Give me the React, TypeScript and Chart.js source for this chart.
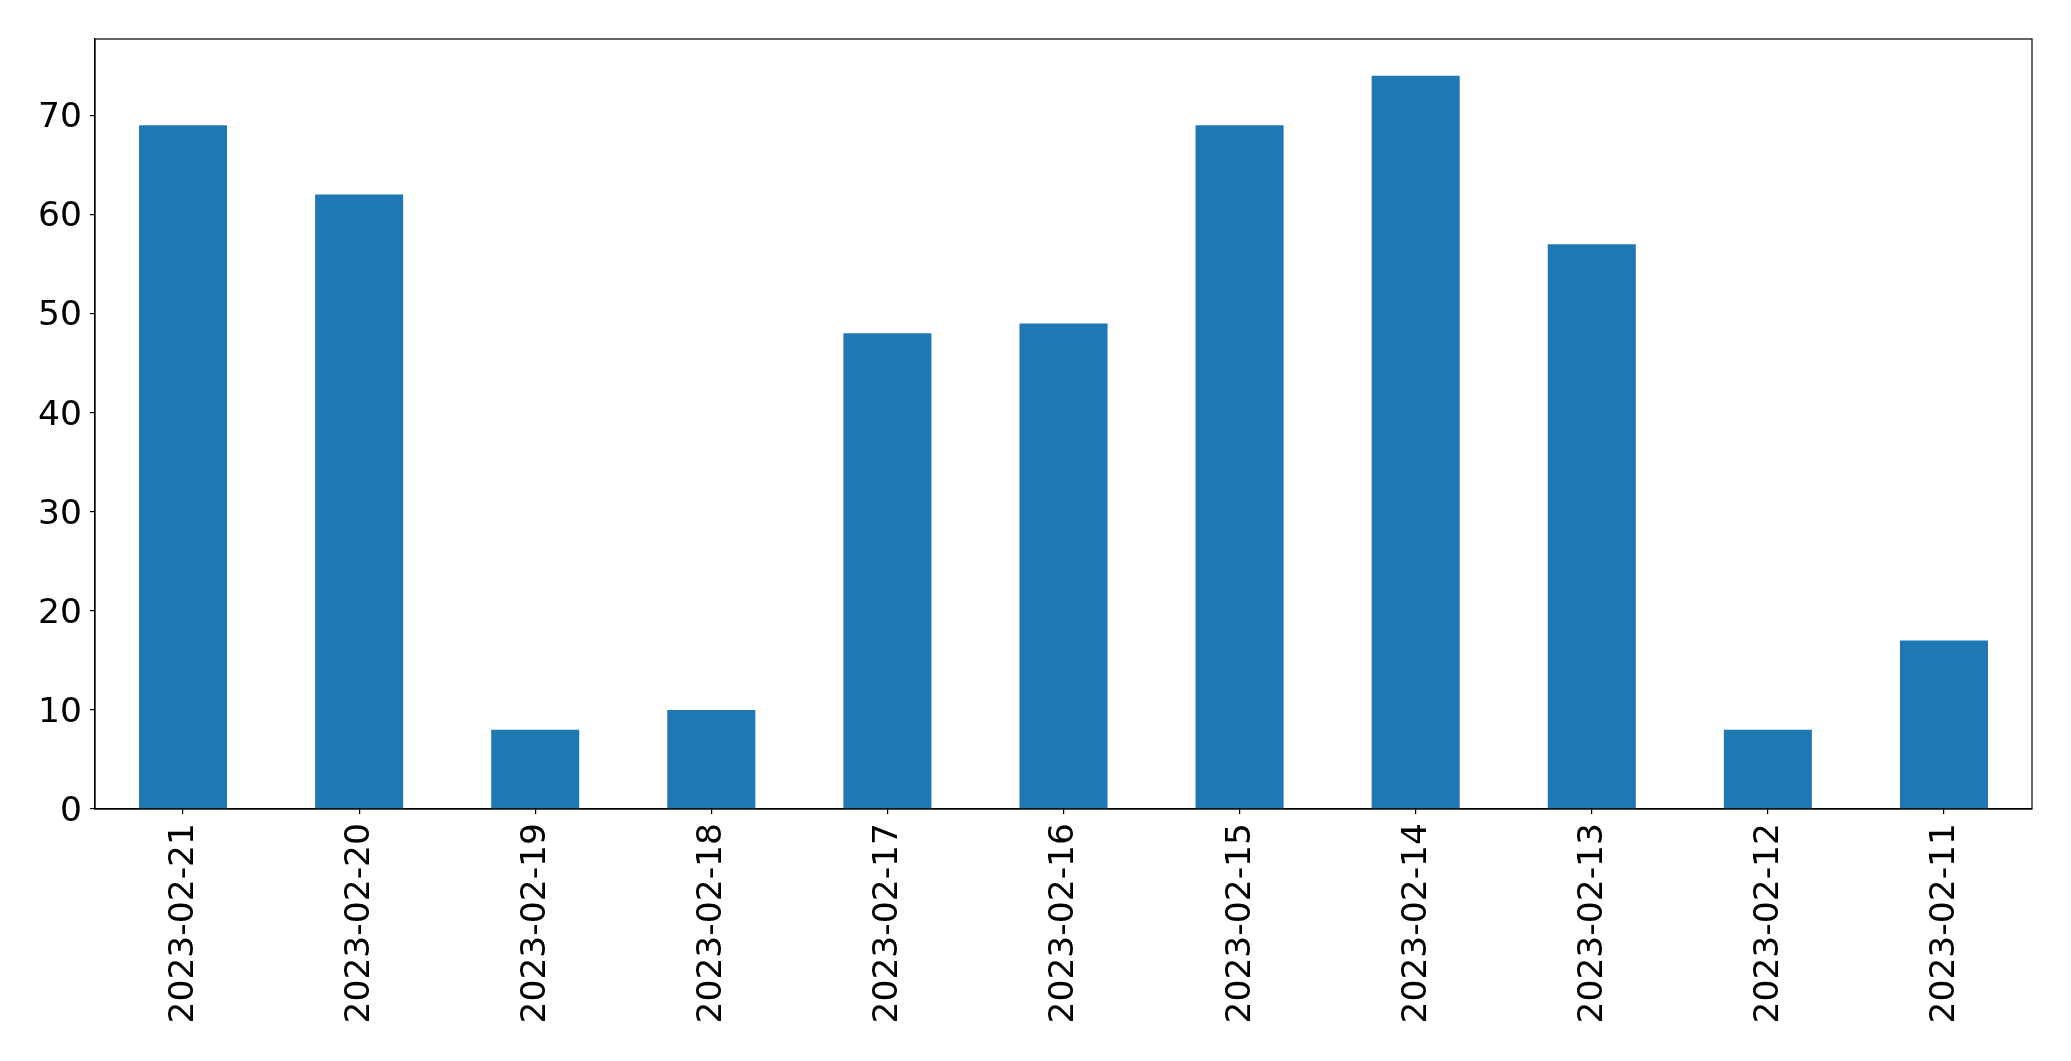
import React, { useEffect, useRef } from "react";
import { Chart, registerables } from "chart.js";

Chart.register(...registerables);

const categories = [
  "2023-02-21", "2023-02-20", "2023-02-19", "2023-02-18", "2023-02-17", "2023-02-16",
  "2023-02-15", "2023-02-14", "2023-02-13", "2023-02-12", "2023-02-11",
];
const counts = [69, 62, 8, 10, 48, 49, 69, 74, 57, 8, 17];
const yTicks = [0, 10, 20, 30, 40, 50, 60, 70];
const yMax = 77.7;

const W = 2071;
const H = 1061;
const FONT = "'DejaVu Sans', sans-serif";
const FS = 34.5;

const framePlugin = {
  id: "frame",
  afterDraw(chart: any) {
    const { ctx, chartArea } = chart;
    ctx.save();
    ctx.strokeStyle = "#000";
    ctx.lineWidth = 1.2;
    ctx.strokeRect(chartArea.left, chartArea.top, chartArea.right - chartArea.left, chartArea.bottom - chartArea.top);
    ctx.restore();
  },
};

export default function App() {
  const ref = useRef<HTMLCanvasElement | null>(null);
  useEffect(() => {
    if (!ref.current) return;
    const chart = new Chart(ref.current, {
      type: "bar",
      data: {
        labels: categories,
        datasets: [
          {
            data: counts,
            backgroundColor: "#1f77b4",
            borderWidth: 0,
            barPercentage: 0.5,
            categoryPercentage: 1,
          },
        ],
      },
      plugins: [framePlugin],
      options: {
        responsive: false,
        animation: false,
        devicePixelRatio: 1,
        layout: { padding: { left: 0, top: 39, right: 39, bottom: 0 } },
        plugins: { legend: { display: false }, tooltip: { enabled: false } },
        scales: {
          x: {
            type: "category",
            offset: true,
            grid: { display: true, offset: false, drawOnChartArea: false, drawTicks: true, tickLength: 5, color: "#000", lineWidth: 1.2 },
            border: { display: true, color: "#000", width: 1.2 },
            ticks: {
              color: "#000",
              font: { family: FONT, size: FS },
              minRotation: 90,
              maxRotation: 90,
              autoSkip: false,
              padding: 9,
              labelOffset: 1,
            },
            afterFit: (scale: any) => {
              scale.height = H - 809;
            },
          },
          y: {
            min: 0,
            max: yMax,
            grid: { display: true, drawOnChartArea: false, drawTicks: true, tickLength: 5, color: "#000", lineWidth: 1.2 },
            border: { display: true, color: "#000", width: 1.2 },
            ticks: {
              color: "#000",
              font: { family: FONT, size: FS },
              stepSize: 10,
              includeBounds: false,
              padding: 8,
              labelOffset: 3,
            },
            afterBuildTicks: (scale: any) => {
              scale.ticks = yTicks.map((v) => ({ value: v }));
            },
            afterFit: (scale: any) => {
              scale.width = 95;
            },
          },
        },
      },
    });
    return () => chart.destroy();
  }, []);
  return (
    <div style={{ position: "fixed", left: 0, top: 0, width: W, height: H, background: "#fff" }}>
      <canvas ref={ref} width={W} height={H} style={{ width: W, height: H, display: "block" }} />
    </div>
  );
}
